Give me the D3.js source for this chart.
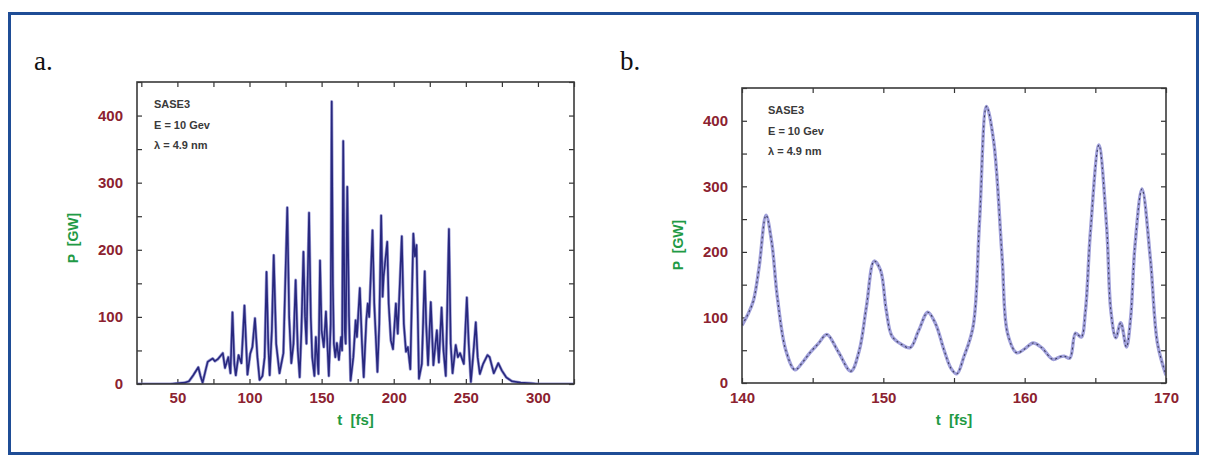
<!DOCTYPE html>
<html>
<head>
<meta charset="utf-8">
<script src="https://cdn.jsdelivr.net/npm/d3@7"></script>
<style>
  html, body { margin: 0; padding: 0; background: #fff; }
  svg { display: block; }
  .tick-label { font-family: "Liberation Sans", Arial, sans-serif; font-weight: bold; fill: #8c2230; }
  .axis-title { font-family: "Liberation Sans", Arial, sans-serif; font-weight: bold; fill: #1f9a45; }
  .note { font-family: "Liberation Sans", Arial, sans-serif; font-weight: bold; fill: #3a3a3a; font-size: 11px; }
  .panel-letter { font-family: "Liberation Serif", "Times New Roman", serif; fill: #111; font-size: 27px; }
</style>
</head>
<body>
<svg id="chart" width="1205" height="464"></svg>
<script>
// ---- Panel a: full SASE3 pulse, power vs time ----
const pulseTime = [
  22, 45, 55, 58, 61, 64.5, 66, 67.5, 69.5, 71, 73, 74.5, 76, 78, 80, 81.5, 83, 85.3, 86.8, 88.2,
  89.5, 90.5, 92.4, 94.4, 96.5, 98.6, 100.5, 102, 103.8, 105.5, 107, 109, 110.5, 111.8, 113, 114,
  115.5, 116.8, 118.5, 120.8, 123.5, 126.2, 127.5, 129, 130.5, 132, 133.5, 134.8, 136, 137.4, 138.5,
  139.5, 140.3, 141.3, 142.5, 143.5, 145, 146, 147, 147.8, 148.9, 150, 151.5, 153, 154, 155, 156.3,
  157, 157.8, 158.5, 159.5, 160.6, 162, 163.5, 164.2, 165, 166, 166.7, 167.8, 169, 170.1, 172, 173.6,
  174.5, 176.5, 178, 179.2, 181, 182, 183, 185.3, 186.5, 188.7, 190, 191.3, 192.3, 193, 195.5, 196.5,
  198, 199.5, 201.5, 202.8, 205.6, 207, 208.5, 209.8, 211.5, 213.6, 214.7, 215.8, 217.5, 219.5, 221.5,
  222.5, 223.8, 225.7, 227.5, 229.9, 231.3, 233.2, 234.5, 236.1, 238.3, 239.5, 240.8, 243, 244.5, 246,
  248.6, 250.7, 252, 253.5, 255, 256.9, 258.2, 259.7, 262, 265, 266.5, 269.4, 272.5, 275, 278, 282,
  288, 295, 300, 325
];
const pulsePower = [
  0, 0, 2, 4, 13, 25, 12, 2, 20, 33, 36, 38, 34, 37, 42, 46, 24, 40, 16, 107,
  30, 13, 43, 31, 117, 14, 45, 55, 98, 40, 6, 12, 40, 167, 60, 13,
  80, 192, 60, 16, 46, 263, 100, 31, 60, 155, 50, 10, 80, 197, 100,
  60, 150, 255, 100, 40, 12, 70, 40, 15, 184, 80, 55, 108, 60, 12, 90,
  421, 150, 60, 40, 61, 36, 70, 50, 362, 80, 60, 294, 100, 5, 40, 95,
  70, 143, 60, 10, 95, 120, 100, 229, 120, 18, 90, 251, 130, 160, 212, 120,
  65, 52, 120, 75, 220, 90, 48, 55, 22, 224, 190, 207, 8, 30, 168,
  90, 28, 122, 28, 80, 32, 114, 50, 12, 231, 60, 16, 58, 40, 46,
  30, 129, 60, 3, 40, 92, 40, 15, 30, 43, 40, 16, 31, 20, 10, 4,
  2, 1, 0, 0
];

// ---- Panel b: detail of the pulse between 140 and 170 fs ----
const detailTime = [
  140.0, 140.4, 140.8, 141.2, 141.7, 142.1, 142.5, 143.1, 143.75, 144.3, 144.8, 145.4, 146.0, 146.8,
  147.7, 148.3, 148.8, 149.35, 149.8, 150.2, 150.6, 151.2, 151.9, 152.5, 153.15, 153.7, 154.3, 154.8,
  155.2, 155.7, 156.35, 156.8, 157.3, 157.8, 158.4, 158.8, 159.45, 160.0, 160.6, 161.2, 162.0, 162.5,
  162.8, 163.2, 163.6, 164.0, 164.3, 164.65, 165.25, 165.8, 166.1, 166.45, 166.8, 167.2, 167.5, 167.8,
  168.3, 168.9, 169.4, 170.0
];
const detailPower = [
  88, 104, 125, 175, 256, 215, 131, 50, 20, 32, 46, 60, 74, 48,
  18, 50, 116, 186, 172, 112, 72, 60, 54, 80, 108, 90, 50, 22,
  14, 40, 86, 244, 422, 370, 193, 75, 46, 52, 61, 54, 36, 40,
  41, 38, 76, 70, 110, 230, 363, 238, 110, 69, 92, 55, 100, 208,
  296, 188, 60, 12
];

// Tick labels and captions
const powerTicks = [0, 100, 200, 300, 400];
const pulseTimeTicks = [50, 100, 150, 200, 250, 300];
const detailTimeTicks = [140, 150, 160, 170];
const noteLines = ["SASE3", "E = 10 Gev", "\u03bb = 4.9 nm"];
const panelLetters = ["a.", "b."];
const powerTitle = "P  [GW]";
const timeTitle = "t  [fs]";

const svg = d3.select("#chart");

// Outer frame
svg.append("rect")
  .attr("x", 9.5).attr("y", 13.5)
  .attr("width", 1188).attr("height", 440)
  .attr("fill", "#fff")
  .attr("stroke", "#1f4d96")
  .attr("stroke-width", 3);

function drawPanel(cfg) {
  const g = svg.append("g");
  const x = d3.scaleLinear().domain(cfg.xDomain).range([cfg.left, cfg.right]);
  const y = d3.scaleLinear().domain([0, 450]).range([cfg.bottom, cfg.top]);

  // Inward tick marks on all four sides
  const tickLen = 5;
  const mk = (axis, transform) => {
    const a = g.append("g").attr("transform", transform).call(axis);
    a.select(".domain").remove();
    a.selectAll("line").attr("stroke", "#333").attr("stroke-width", 1.2);
    a.selectAll("text").remove();
  };
  mk(d3.axisBottom(x).tickValues(cfg.xMinor).tickSize(-tickLen), `translate(0,${cfg.bottom})`);
  mk(d3.axisTop(x).tickValues(cfg.xMinor).tickSize(-tickLen), `translate(0,${cfg.top})`);
  mk(d3.axisLeft(y).tickValues(cfg.yMinor).tickSize(-tickLen), `translate(${cfg.left},0)`);
  mk(d3.axisRight(y).tickValues(cfg.yMinor).tickSize(-tickLen), `translate(${cfg.right},0)`);

  // Tick labels
  const xl = g.append("g").attr("transform", `translate(0,${cfg.bottom})`)
    .call(d3.axisBottom(x).tickValues(cfg.xTicks).tickSize(0).tickPadding(cfg.xPad).tickFormat(d3.format("d")));
  xl.select(".domain").remove();
  xl.selectAll("text").attr("class", "tick-label").style("font-size", cfg.labelSize + "px").attr("fill", null);

  const yl = g.append("g").attr("transform", `translate(${cfg.left},0)`)
    .call(d3.axisLeft(y).tickValues(powerTicks).tickSize(0).tickPadding(cfg.yPad).tickFormat(d3.format("d")));
  yl.select(".domain").remove();
  yl.selectAll("text").attr("class", "tick-label").style("font-size", cfg.labelSize + "px").attr("fill", null);

  // Data curve, clipped to the plot box
  const clipId = "clip-" + cfg.name;
  svg.append("clipPath").attr("id", clipId).append("rect")
    .attr("x", cfg.left).attr("y", cfg.top)
    .attr("width", cfg.right - cfg.left).attr("height", cfg.bottom - cfg.top);

  const pts = cfg.times.map((t, i) => [t, cfg.powers[i]]);
  const line = d3.line().x(d => x(d[0])).y(d => y(d[1])).curve(cfg.curve);
  const plot = g.append("g").attr("clip-path", `url(#${clipId})`);
  cfg.strokes.forEach(s => {
    plot.append("path").datum(pts)
      .attr("d", line)
      .attr("fill", "none")
      .attr("stroke", s.color)
      .attr("stroke-width", s.width)
      .attr("stroke-linejoin", "round")
      .attr("stroke-dasharray", s.dash || null)
      .attr("opacity", s.opacity || 1);
  });

  // Plot box
  g.append("rect")
    .attr("x", cfg.left).attr("y", cfg.top)
    .attr("width", cfg.right - cfg.left).attr("height", cfg.bottom - cfg.top)
    .attr("fill", "none").attr("stroke", "#3a3a3a").attr("stroke-width", 1.6);

  // Parameter notes
  noteLines.forEach((txt, i) => {
    g.append("text").attr("class", "note")
      .attr("x", cfg.left + cfg.noteDx).attr("y", cfg.top + cfg.noteDy + i * 20.5)
      .text(txt);
  });

  // Axis titles
  g.append("text").attr("class", "axis-title")
    .attr("x", (cfg.left + cfg.right) / 2 + cfg.xTitleDx).attr("y", cfg.xTitleY)
    .attr("text-anchor", "middle").style("font-size", "15px")
    .style("white-space", "pre").text(timeTitle);
  g.append("text").attr("class", "axis-title")
    .attr("transform", `translate(${cfg.yTitleX},${cfg.yTitleY}) rotate(-90)`)
    .attr("text-anchor", "middle").style("font-size", "14px")
    .style("white-space", "pre").text(powerTitle);

  // Panel letter
  svg.append("text").attr("class", "panel-letter")
    .attr("x", cfg.letterX).attr("y", 70).text(cfg.letter);
}

drawPanel({
  name: "a", letter: panelLetters[0], letterX: 34,
  left: 137, right: 574, top: 82, bottom: 384,
  xDomain: [22, 325],
  xTicks: pulseTimeTicks, xMinor: d3.range(25, 326, 25), yMinor: d3.range(0, 451, 50),
  times: pulseTime, powers: pulsePower,
  curve: d3.curveLinear,
  strokes: [
    { color: "#8080c8", width: 3, opacity: 0.75 },
    { color: "#28287e", width: 1.6 }
  ],
  labelSize: 15, xPad: 8, yPad: 14,
  noteDx: 17, noteDy: 26,
  xTitleDx: 0, xTitleY: 425, yTitleX: 78, yTitleY: 238
});

drawPanel({
  name: "b", letter: panelLetters[1], letterX: 620,
  left: 742, right: 1166, top: 88, bottom: 383,
  xDomain: [140, 170],
  xTicks: detailTimeTicks, xMinor: d3.range(140, 171, 5), yMinor: d3.range(0, 451, 50),
  times: detailTime, powers: detailPower,
  curve: d3.curveCatmullRom.alpha(0.5),
  strokes: [
    { color: "#a0a0da", width: 3.4 },
    { color: "#3d3d5c", width: 1.1, dash: "2,3" }
  ],
  labelSize: 15, xPad: 9, yPad: 14,
  noteDx: 26, noteDy: 26,
  xTitleDx: 0, xTitleY: 425, yTitleX: 683, yTitleY: 245
});
</script>
</body>
</html>
